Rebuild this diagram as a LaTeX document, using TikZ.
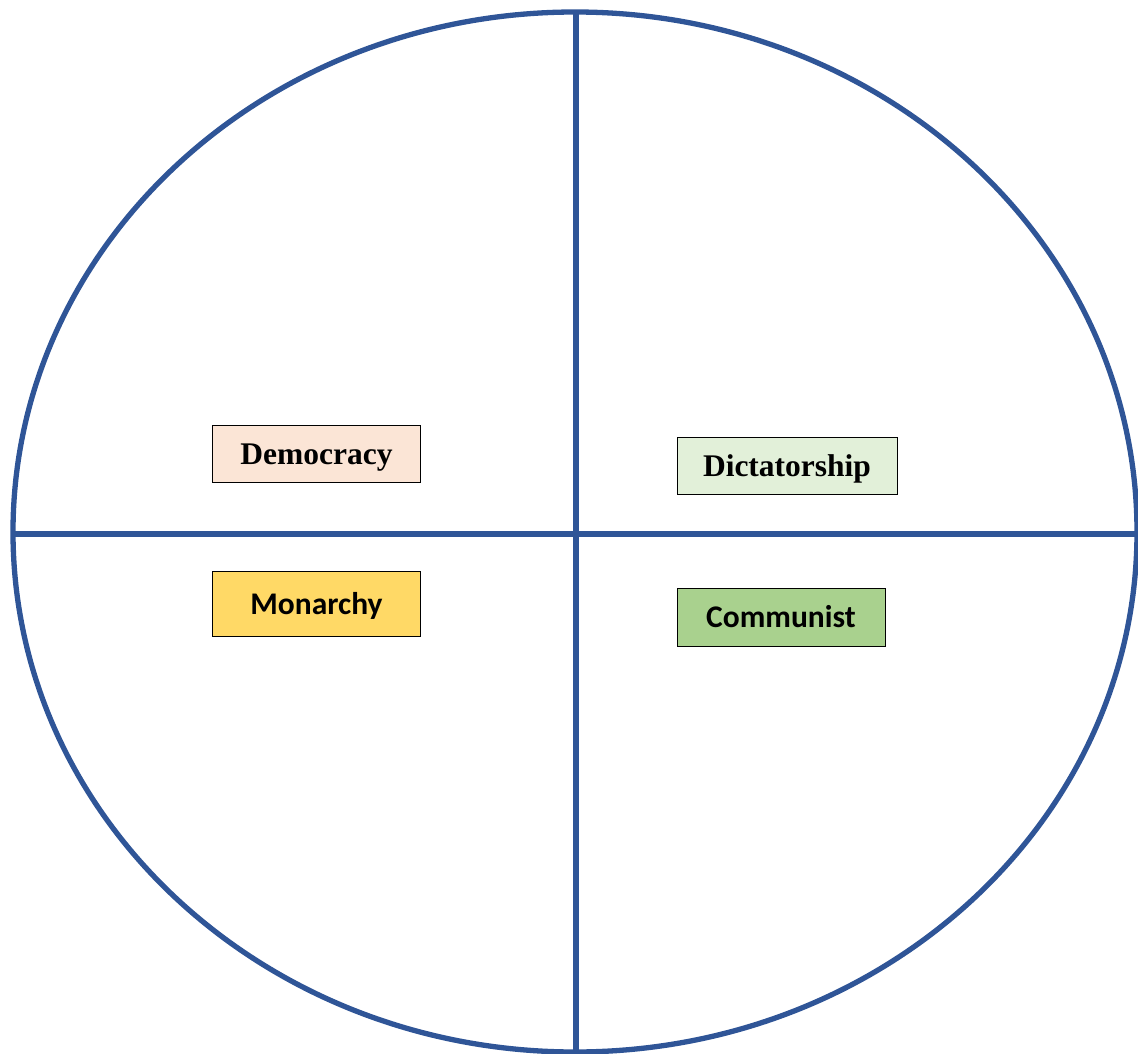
\documentclass[tikz,border=0pt]{standalone}
\usepackage{fontspec}
\setmainfont{Liberation Serif}
\newfontfamily\calib{Carlito}
\definecolor{lineblue}{HTML}{2F5597}
\definecolor{peach}{HTML}{FBE5D6}
\definecolor{palegreen}{HTML}{E2F0D9}
\definecolor{gold}{HTML}{FFD966}
\definecolor{midgreen}{HTML}{A9D18E}
\begin{document}
\begin{tikzpicture}[x=1pt,y=-1pt,
  axis/.style={draw=lineblue,line width=5.3pt},
  label/.style={draw=black,line width=0.9pt,inner sep=0pt,text depth=0pt,text height=21pt,font=\fontsize{31.5}{36}\selectfont\bfseries},
  serifbox/.style={label},
  sansbox/.style={label,text height=20pt,font=\fontsize{31.5}{36}\selectfont\calib\bfseries}]
\useasboundingbox (0,0) rectangle (1138,1054);
\coordinate (c) at (575,532);
\draw[axis] (c) ellipse [x radius=562, y radius=520];
\coordinate (top) at (576,12);
\coordinate (bot) at (576,1054);
\coordinate (lft) at (13,534);
\coordinate (rgt) at (1138,534);
\draw[axis] (top) -- (bot);
\draw[axis] (lft) -- (rgt);
\node[serifbox,fill=peach,minimum width=208pt,minimum height=57pt] (dem) at (316.5,454) {Democracy};
\node[serifbox,fill=palegreen,minimum width=220pt,minimum height=57pt] (dic) at (787,465.5) {Dictatorship};
\node[sansbox,fill=gold,minimum width=208pt,minimum height=65pt] (mon) at (316.5,604) {Monarchy};
\node[sansbox,fill=midgreen,minimum width=208pt,minimum height=58pt] (com) at (781,617.5) {Communist};
\end{tikzpicture}
\end{document}
